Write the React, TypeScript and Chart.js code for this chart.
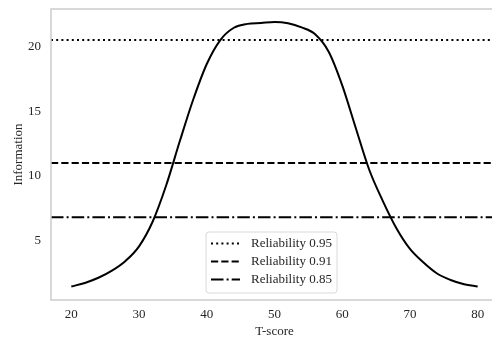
import React, { useEffect, useRef } from "react";
import { Chart, registerables } from "chart.js";

Chart.register(...registerables);

// ---- Data ----
const T_SCORES = [20, 22, 24, 26, 28, 30, 32, 34, 36, 38, 40, 42, 44, 46, 48, 50, 52, 54, 56, 58, 60, 62, 64, 66, 68, 70, 72, 74, 76, 78, 80];
const INFORMATION = [1.44, 1.72, 2.12, 2.67, 3.42, 4.55, 6.45, 9.25, 12.65, 15.9, 18.65, 20.5, 21.45, 21.75, 21.82, 21.9, 21.8, 21.48, 20.95, 19.6, 17.0, 13.7, 10.45, 8.05, 5.95, 4.35, 3.3, 2.45, 1.95, 1.62, 1.44];
const RELIABILITY_LABELS = ["Reliability 0.95", "Reliability 0.91", "Reliability 0.85"];
const RELIABILITY_INFO = [20.5, 11.0, 6.8];
const X_TICKS = [20, 30, 40, 50, 60, 70, 80];
const Y_TICKS = [5, 10, 15, 20];
const X_RANGE = [17, 83];
const Y_RANGE = [0.4, 22.9];
const X_TITLE = "T-score";
const Y_TITLE = "Information";

// ---- Styles ----
const FONT_FAMILY = '"Liberation Serif", "Times New Roman", serif';
const TEXT_COLOR = "#262626";
const SPINE_COLOR = "#cccccc";
const DASHES = [[2, 3.2], [7.2, 3.1], [12.5, 3.1, 2, 3.1]];

const framePlugin = {
  id: "frame",
  afterDatasetsDraw(chart: any) {
    const { ctx, chartArea: ca } = chart;
    ctx.save();
    ctx.strokeStyle = SPINE_COLOR;
    ctx.lineWidth = 1.5;
    ctx.setLineDash([]);
    ctx.strokeRect(ca.left, ca.top, ca.right - ca.left, ca.bottom - ca.top);
    ctx.restore();
  },
};

const innerLegendPlugin = {
  id: "innerLegend",
  afterDraw(chart: any) {
    const { ctx, chartArea: ca } = chart;
    const x0 = ca.left + 155;
    const y0 = ca.top + 223;
    const w = 131;
    const h = 61;
    const r = 3;
    ctx.save();
    ctx.beginPath();
    ctx.moveTo(x0 + r, y0);
    ctx.arcTo(x0 + w, y0, x0 + w, y0 + h, r);
    ctx.arcTo(x0 + w, y0 + h, x0, y0 + h, r);
    ctx.arcTo(x0, y0 + h, x0, y0, r);
    ctx.arcTo(x0, y0, x0 + w, y0, r);
    ctx.closePath();
    ctx.fillStyle = "rgba(255,255,255,0.85)";
    ctx.fill();
    ctx.lineWidth = 1;
    ctx.strokeStyle = "#d9d9d9";
    ctx.stroke();
    const items = chart.data.datasets.filter((d: any) => d.inLegend);
    items.forEach((d: any, i: number) => {
      const cy = y0 + 11.5 + i * 18;
      ctx.beginPath();
      ctx.setLineDash(d.borderDash || []);
      ctx.lineWidth = d.borderWidth;
      ctx.strokeStyle = d.borderColor;
      ctx.moveTo(x0 + 5, cy);
      ctx.lineTo(x0 + 34, cy);
      ctx.stroke();
      ctx.setLineDash([]);
      ctx.fillStyle = TEXT_COLOR;
      ctx.font = `13px ${FONT_FAMILY}`;
      ctx.textBaseline = "middle";
      ctx.textAlign = "left";
      ctx.fillText(d.label, x0 + 45, cy);
    });
    ctx.restore();
  },
};

export default function App() {
  const canvasRef = useRef<HTMLCanvasElement | null>(null);

  useEffect(() => {
    if (!canvasRef.current) return;
    const curve = {
      label: "Information",
      data: T_SCORES.map((t, i) => ({ x: t, y: INFORMATION[i] })),
      borderColor: "#000000",
      borderWidth: 2,
      pointRadius: 0,
      cubicInterpolationMode: "monotone",
      fill: false,
      inLegend: false,
    };
    const refs = RELIABILITY_INFO.map((v, i) => ({
      label: RELIABILITY_LABELS[i],
      data: [
        { x: X_RANGE[0], y: v },
        { x: X_RANGE[1], y: v },
      ],
      borderColor: "#000000",
      borderWidth: 2,
      borderDash: DASHES[i],
      pointRadius: 0,
      fill: false,
      inLegend: true,
    }));

    const font = { family: FONT_FAMILY, size: 13 };
    const chart = new Chart(canvasRef.current, {
      type: "line",
      data: { datasets: [curve, ...refs] as any },
      options: {
        animation: false,
        responsive: false,
        maintainAspectRatio: false,
        layout: { padding: { left: 0, right: 2, top: 9, bottom: 0 } },
        plugins: { legend: { display: false }, tooltip: { enabled: false } },
        scales: {
          x: {
            type: "linear",
            min: X_RANGE[0],
            max: X_RANGE[1],
            afterBuildTicks: (s: any) => {
              s.ticks = X_TICKS.map((v) => ({ value: v }));
            },
            afterFit: (s: any) => {
              s.height = 39;
              s.paddingLeft = 0;
              s.paddingRight = 0;
            },
            grid: { display: false, drawTicks: false, tickLength: 0 },
            border: { display: false },
            ticks: { font, color: TEXT_COLOR, padding: 7, maxRotation: 0, autoSkip: false },
            title: { display: true, text: X_TITLE, font, color: TEXT_COLOR, padding: { top: 0, bottom: 0 } },
          },
          y: {
            type: "linear",
            min: Y_RANGE[0],
            max: Y_RANGE[1],
            afterBuildTicks: (s: any) => {
              s.ticks = Y_TICKS.map((v) => ({ value: v }));
            },
            afterFit: (s: any) => {
              s.width = 51;
              s.paddingTop = 0;
              s.paddingBottom = 0;
            },
            grid: { display: false, drawTicks: false, tickLength: 0 },
            border: { display: false },
            ticks: { font, color: TEXT_COLOR, padding: 10, autoSkip: false },
            title: { display: true, text: Y_TITLE, font, color: TEXT_COLOR, padding: { top: 11, bottom: 0 } },
          },
        },
      } as any,
      plugins: [framePlugin, innerLegendPlugin],
    });
    return () => chart.destroy();
  }, []);

  return (
    <div
      style={{
        position: "fixed",
        left: 0,
        top: 0,
        width: 492,
        height: 339,
        overflow: "hidden",
        background: "#ffffff",
      }}
    >
      <canvas ref={canvasRef} width={500} height={339} style={{ width: 500, height: 339, display: "block" }} />
    </div>
  );
}
